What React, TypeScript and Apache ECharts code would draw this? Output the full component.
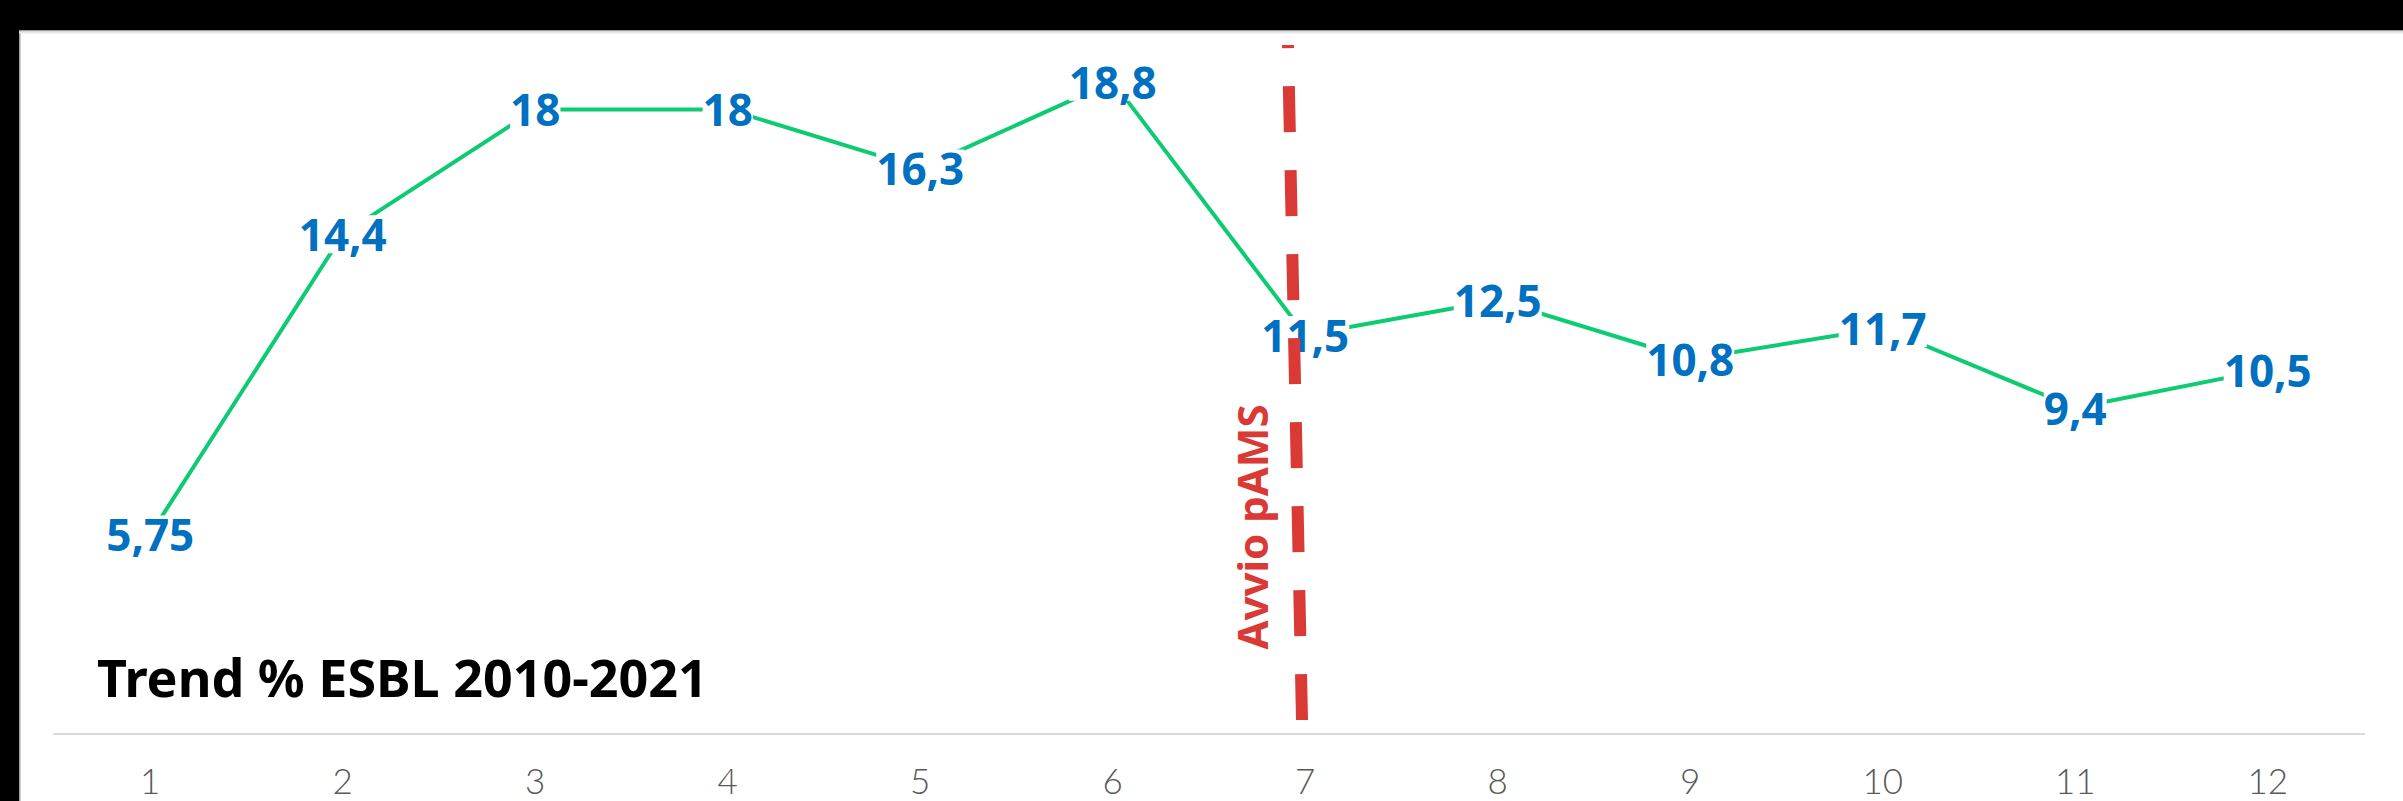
import React, { useEffect, useRef } from "react";
import * as echarts from "echarts";

const categories = ["1", "2", "3", "4", "5", "6", "7", "8", "9", "10", "11", "12"];
const values = [5.75, 14.4, 18, 18, 16.3, 18.8, 11.5, 12.5, 10.8, 11.7, 9.4, 10.5];
const titleText = "Trend % ESBL 2010-2021";
const markerText = "Avvio pAMS";
const yMin = 0;
const yMax = 20;

export default function App() {
  const ref = useRef<HTMLDivElement>(null);
  useEffect(() => {
    if (!ref.current) return;
    const chart = echarts.init(ref.current, null, { renderer: "svg" });
    chart.setOption({
      animation: false,
      backgroundColor: "#ffffff",
      grid: { left: 54, right: 39, top: 40, bottom: 67 },
      xAxis: {
        type: "category",
        data: categories,
        boundaryGap: true,
        axisLine: { show: true, lineStyle: { color: "#D9D9D9", width: 2 } },
        axisTick: { show: false },
        axisLabel: {
          color: "#595959",
          fontFamily: "Lato",
          fontWeight: 300,
          fontSize: 35,
          margin: 28,
        },
        splitLine: { show: false },
      },
      yAxis: {
        type: "value",
        min: yMin,
        max: yMax,
        show: false,
        splitLine: { show: false },
      },
      series: [
        {
          type: "line",
          data: values,
          symbol: "circle",
          symbolSize: 1,
          itemStyle: { color: "#0CCB72" },
          lineStyle: { color: "#0CCB72", width: 4 },
          label: {
            show: true,
            position: "inside",
            color: "#0070C0",
            fontFamily: "Noto Sans",
            fontWeight: "bold",
            fontSize: 44,
            lineHeight: 38,
            backgroundColor: "#ffffff",
            padding: [0, 0],
            formatter: (p: any) => String(p.value).replace(".", ","),
          },
          z: 2,
        },
      ],
      graphic: [
        { type: "rect", z: 200, shape: { x: 0, y: 0, width: 2403, height: 30 }, style: { fill: "#000000" } },
        { type: "rect", z: 200, shape: { x: 0, y: 30, width: 2403, height: 1.5 }, style: { fill: "#9a9a9a" } },
        { type: "rect", z: 200, shape: { x: 0, y: 31.5, width: 2403, height: 2 }, style: { fill: "#e8e8e8" } },
        { type: "rect", z: 200, shape: { x: 0, y: 0, width: 19, height: 801 }, style: { fill: "#000000" } },
        { type: "rect", z: 199, shape: { x: 19, y: 30, width: 1.5, height: 771 }, style: { fill: "#a0a0a0" } },
        {
          type: "line",
          z: 150,
          shape: { x1: 1302, y1: 720, x2: 1288, y2: 45 },
          style: { stroke: "#D93A35", lineWidth: 12, lineDash: [46, 38], lineCap: "butt" },
        },
        {
          type: "text",
          z: 150,
          x: 1251,
          y: 527,
          rotation: Math.PI / 2,
          style: {
            text: markerText,
            fill: "#D93A35",
            fontFamily: "Noto Sans",
            fontWeight: "bold",
            fontSize: 42,
            textAlign: "center",
            textVerticalAlign: "middle",
          },
        },
        {
          type: "text",
          z: 150,
          x: 97,
          y: 676,
          style: {
            text: titleText,
            fill: "#000000",
            fontFamily: "Noto Sans",
            fontWeight: "bold",
            fontSize: 52,
            textAlign: "left",
            textVerticalAlign: "middle",
          },
        },
      ],
    });
    return () => chart.dispose();
  }, []);
  return (
    <div
      ref={ref}
      style={{ position: "absolute", left: 0, top: 0, width: 2403, height: 801 }}
    />
  );
}
